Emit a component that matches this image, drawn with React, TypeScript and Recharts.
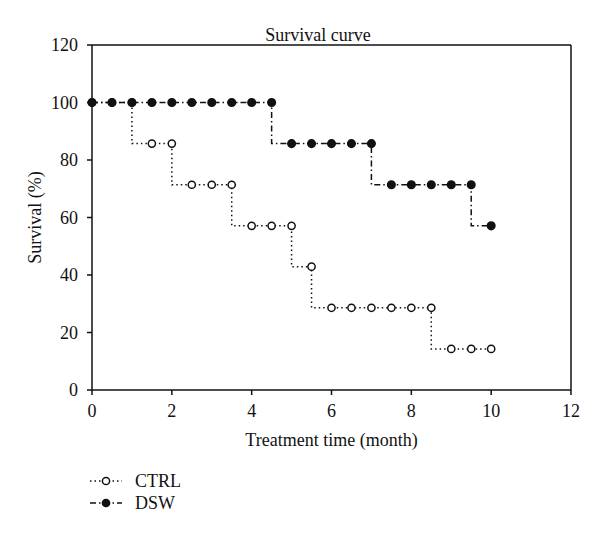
import React from 'react';
import { LineChart, Line, XAxis, YAxis, ReferenceLine } from 'recharts';

const months = [0, 0.5, 1, 1.5, 2, 2.5, 3, 3.5, 4, 4.5, 5, 5.5, 6, 6.5, 7, 7.5, 8, 8.5, 9, 9.5, 10];
const ctrl = [100, 100, 100, 85.7, 85.7, 71.4, 71.4, 71.4, 57.1, 57.1, 57.1, 42.9, 28.6, 28.6, 28.6, 28.6, 28.6, 28.6, 14.3, 14.3, 14.3];
const dsw = [100, 100, 100, 100, 100, 100, 100, 100, 100, 100, 85.7, 85.7, 85.7, 85.7, 85.7, 71.4, 71.4, 71.4, 71.4, 71.4, 57.1];
const xTicks = [0, 2, 4, 6, 8, 10, 12];
const yTicks = [0, 20, 40, 60, 80, 100, 120];

const data = months.map((m, i) => ({ month: m, CTRL: ctrl[i], DSW: dsw[i] }));

const FONT = '"Liberation Serif", "DejaVu Serif", serif';
const CTRL_DASH = '1.5 3';
const DSW_DASH = '6 3 1.5 3';

const YLabel = ({ viewBox }: any) => {
  const cx = viewBox.x + 35;
  const cy = viewBox.y + viewBox.height / 2;
  return (
    <text x={cx} y={cy} transform={`rotate(-90 ${cx} ${cy})`} textAnchor="middle" dominantBaseline="central"
      fontFamily={FONT} fontSize={18} fill="#111">
      Survival (%)
    </text>
  );
};

const LegendRow = ({ label, filled, dash }: { label: string; filled: boolean; dash: string }) => (
  <div style={{ display: 'flex', alignItems: 'center', height: 22 }}>
    <svg width={47} height={22}>
      <line x1={2} y1={11} x2={34} y2={11} stroke="#111" strokeWidth={1.5} strokeDasharray={dash} />
      <circle cx={18} cy={11} r={3.6} fill={filled ? '#111' : '#fff'} stroke="#111" strokeWidth={1.5} />
    </svg>
    <span style={{ fontFamily: FONT, fontSize: 18, color: '#111' }}>{label}</span>
  </div>
);

export default function App() {
  return (
    <div style={{ position: 'absolute', left: 0, top: 0, width: 600, height: 535, background: '#fff' }}>
      <div style={{ position: 'absolute', left: 0, top: 25, width: 636, textAlign: 'center', fontFamily: FONT, fontSize: 18, color: '#111' }}>
        Survival curve
      </div>
      <LineChart width={600} height={535} data={data} margin={{ top: 45, right: 29, bottom: 115, left: 0 }}>
        <ReferenceLine y={120} stroke="#111" strokeWidth={1.5} />
        <ReferenceLine x={12} stroke="#111" strokeWidth={1.5} />
        <XAxis
          dataKey="month"
          type="number"
          domain={[0, 12]}
          ticks={xTicks}
          height={30}
          axisLine={{ stroke: '#111', strokeWidth: 1.5 }}
          tickLine={{ stroke: '#111', strokeWidth: 1.5 }}
          tickSize={5}
          tickMargin={9}
          tick={{ fill: '#111', fontSize: 18, fontFamily: FONT }}
          label={{ value: 'Treatment time (month)', position: 'bottom', offset: 13, fill: '#111', fontSize: 18, fontFamily: FONT }}
        />
        <YAxis
          type="number"
          domain={[0, 120]}
          ticks={yTicks}
          width={92}
          axisLine={{ stroke: '#111', strokeWidth: 1.5 }}
          tickLine={{ stroke: '#111', strokeWidth: 1.5 }}
          tickSize={5}
          tickMargin={9}
          tick={{ fill: '#111', fontSize: 18, fontFamily: FONT }}
          label={<YLabel />}
        />
        <Line
          type="stepBefore"
          dataKey="CTRL"
          stroke="#111"
          strokeWidth={1.5}
          strokeDasharray={CTRL_DASH}
          dot={{ r: 3.6, fill: '#fff', stroke: '#111', strokeWidth: 1.5, strokeDasharray: '' }}
          isAnimationActive={false}
        />
        <Line
          type="stepBefore"
          dataKey="DSW"
          stroke="#111"
          strokeWidth={1.5}
          strokeDasharray={DSW_DASH}
          dot={{ r: 3.8, fill: '#111', stroke: '#111', strokeWidth: 1.5, strokeDasharray: '' }}
          isAnimationActive={false}
        />
      </LineChart>
      <div style={{ position: 'absolute', left: 88, top: 470 }}>
        <LegendRow label="CTRL" filled={false} dash={CTRL_DASH} />
        <LegendRow label="DSW" filled={true} dash={DSW_DASH} />
      </div>
    </div>
  );
}
